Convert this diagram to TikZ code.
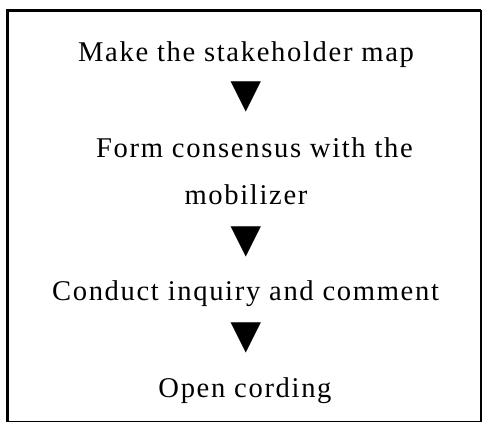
\documentclass[tikz,border=0pt]{standalone}
\usepackage{fontspec}
\setmainfont[LetterSpace=5.8]{Liberation Serif}

\tikzset{
    stage/.style={anchor=base, inner sep=0pt, align=center,
        font=\fontsize{28.6}{47}\selectfont},
    downmark/.style={anchor=center, inner sep=0pt,
        font=\fontsize{52}{52}\selectfont},
}

\begin{document}
\begin{tikzpicture}[x=1pt, y=-1pt]
        \useasboundingbox (0,0) rectangle (483,423);

        % Ramka
        \draw[line width=1.3pt] (7.5,10.5) rectangle (481,421.5);
        \draw[line width=3pt] (7.5,421.5) -- (7.5,10.5) -- (481,10.5);

        % Kroki
        \node[stage] (map) at (246,61) {Make the stakeholder map};
        \node[stage] (consensus) at (246,204) {\hspace*{17pt}Form consensus with the\\mobilizer};
        \node[stage] (inquiry) at (245.5,300) {Conduct inquiry and comment};
        \node[stage] (cording) at (245,397) {Open cording};

        % Strzałki
        \node[downmark] (m1) at (246,97) {▼};
        \node[downmark] (m2) at (246,241.5) {▼};
        \node[downmark] (m3) at (246,337.5) {▼};
\end{tikzpicture}
\end{document}
